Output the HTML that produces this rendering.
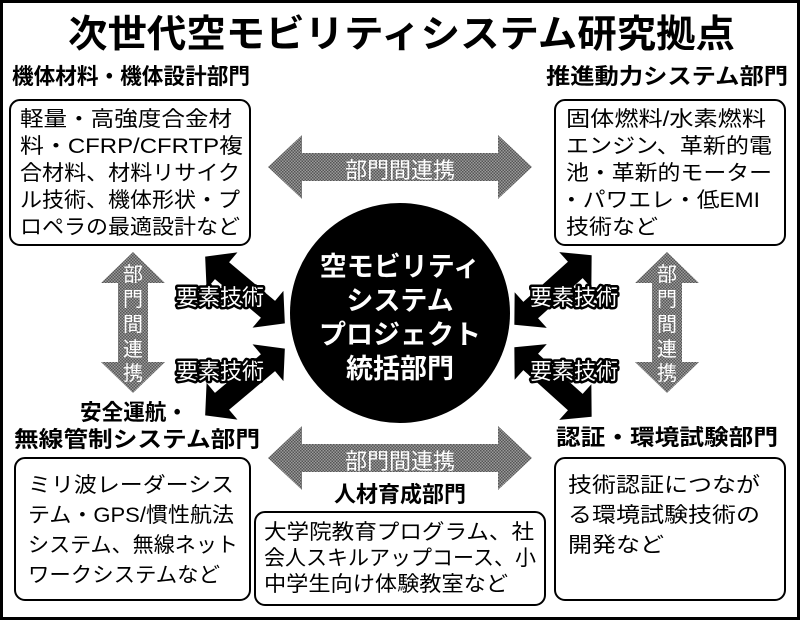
<!DOCTYPE html>
<html><head><meta charset="utf-8"><style>
html,body{margin:0;padding:0;background:#fff}
svg{display:block}
text{font-family:"Liberation Sans","Noto Sans CJK JP",sans-serif}
.b{font-weight:bold}
</style></head><body>
<svg width="800" height="620" viewBox="0 0 800 620" xmlns="http://www.w3.org/2000/svg">
<defs>
<pattern id="ck" width="3" height="3" patternUnits="userSpaceOnUse">
<rect width="3" height="3" fill="#9a9a9a"/><rect width="1.5" height="1.5" fill="#555"/><rect x="1.5" y="1.5" width="1.5" height="1.5" fill="#555"/>
</pattern>
<polygon id="da" points="-52,0 -30,-24 -30,-11 30,-11 30,-24 52,0 30,24 30,11 -30,11 -30,24" fill="#000"/>
</defs>
<rect x="1.5" y="1.5" width="797" height="617" fill="#fff" stroke="#000" stroke-width="3"/>
<text x="68" y="47" class="b" font-size="38" textLength="667" lengthAdjust="spacingAndGlyphs">次世代空モビリティシステム研究拠点</text>

<!-- top-left -->
<text x="12" y="84" class="b" font-size="22" textLength="238" lengthAdjust="spacingAndGlyphs">機体材料・機体設計部門</text>
<rect x="10" y="100" width="240" height="145" rx="10" fill="#fff" stroke="#000" stroke-width="2"/>
<g font-size="21" lengthAdjust="spacingAndGlyphs">
<text x="20" y="126" textLength="212" lengthAdjust="spacingAndGlyphs">軽量・高強度合金材</text>
<text x="20" y="153" textLength="223" lengthAdjust="spacingAndGlyphs">料・CFRP/CFRTP複</text>
<text x="20" y="180" textLength="220" lengthAdjust="spacingAndGlyphs">合材料、材料リサイク</text>
<text x="20" y="207" textLength="220" lengthAdjust="spacingAndGlyphs">ル技術、機体形状・プ</text>
<text x="20" y="234" textLength="220" lengthAdjust="spacingAndGlyphs">ロペラの最適設計など</text>
</g>

<!-- top-right -->
<text x="546" y="84" class="b" font-size="22" textLength="242" lengthAdjust="spacingAndGlyphs">推進動力システム部門</text>
<rect x="555" y="100" width="230" height="145" rx="10" fill="#fff" stroke="#000" stroke-width="2"/>
<g font-size="21">
<text x="566" y="126" textLength="200" lengthAdjust="spacingAndGlyphs">固体燃料/水素燃料</text>
<text x="566" y="153" textLength="206" lengthAdjust="spacingAndGlyphs">エンジン、革新的電</text>
<text x="566" y="180" textLength="206" lengthAdjust="spacingAndGlyphs">池・革新的モーター</text>
<text x="560" y="207" textLength="200" lengthAdjust="spacingAndGlyphs">・パワエレ・低EMI</text>
<text x="566" y="234" textLength="92" lengthAdjust="spacingAndGlyphs">技術など</text>
</g>

<!-- gray horizontal arrows -->
<polygon points="268,167 302,135 302,153 498,153 498,135 532,167 498,199 498,181 302,181 302,199" fill="url(#ck)"/>
<text x="400" y="178" text-anchor="middle" font-size="22" fill="#fff">部門間連携</text>
<polygon points="268,458 302,426 302,444 498,444 498,426 532,458 498,490 498,472 302,472 302,490" fill="url(#ck)"/>
<text x="400" y="469" text-anchor="middle" font-size="22" fill="#fff">部門間連携</text>

<!-- gray vertical arrows -->
<polygon points="133,252 165,283 148,283 148,362 165,362 133,393 101,362 118,362 118,283 101,283" fill="url(#ck)"/>
<g font-size="20" fill="#fff" text-anchor="middle">
<text x="133" y="281">部</text><text x="133" y="306">門</text><text x="133" y="331">間</text><text x="133" y="356">連</text><text x="133" y="380">携</text>
</g>
<polygon points="667,252 699,283 682,283 682,362 699,362 667,393 635,362 652,362 652,283 635,283" fill="url(#ck)"/>
<g font-size="20" fill="#fff" text-anchor="middle">
<text x="667" y="281">部</text><text x="667" y="306">門</text><text x="667" y="331">間</text><text x="667" y="356">連</text><text x="667" y="380">携</text>
</g>

<!-- black arrows -->
<use href="#da" transform="translate(245,290) rotate(40)"/>
<use href="#da" transform="translate(245,382) rotate(-40)"/>
<use href="#da" transform="translate(553,290) rotate(-42)"/>
<use href="#da" transform="translate(553,382) rotate(42)"/>

<!-- circle -->
<circle cx="400" cy="313" r="110" fill="#000"/>
<g fill="#fff" class="b" font-size="27" text-anchor="middle">
<text x="400" y="276">空モビリティ</text>
<text x="400" y="310">システム</text>
<text x="400" y="344">プロジェクト</text>
<text x="400" y="378">統括部門</text>
</g>

<!-- labels -->
<g font-size="22" fill="#fff" stroke="#000" stroke-width="5" paint-order="stroke" stroke-linejoin="round">
<text x="176" y="305">要素技術</text>
<text x="176" y="379">要素技術</text>
<text x="530" y="305">要素技術</text>
<text x="530" y="379">要素技術</text>
</g>

<!-- bottom-left -->
<text x="80" y="420" class="b" font-size="22" textLength="108" lengthAdjust="spacingAndGlyphs">安全運航・</text>
<text x="14" y="447" class="b" font-size="22" textLength="246" lengthAdjust="spacingAndGlyphs">無線管制システム部門</text>
<rect x="15" y="458" width="235" height="142" rx="10" fill="#fff" stroke="#000" stroke-width="2"/>
<g font-size="21">
<text x="28" y="492" textLength="206" lengthAdjust="spacingAndGlyphs">ミリ波レーダーシス</text>
<text x="28" y="522" textLength="206" lengthAdjust="spacingAndGlyphs">テム・GPS/慣性航法</text>
<text x="28" y="552" textLength="210" lengthAdjust="spacingAndGlyphs">システム、無線ネット</text>
<text x="28" y="582" textLength="192" lengthAdjust="spacingAndGlyphs">ワークシステムなど</text>
</g>

<!-- bottom-middle -->
<text x="400" y="502" text-anchor="middle" class="b" font-size="22">人材育成部門</text>
<rect x="255" y="512" width="290" height="93" rx="10" fill="#fff" stroke="#000" stroke-width="2"/>
<g font-size="21">
<text x="264" y="539" textLength="270" lengthAdjust="spacingAndGlyphs">大学院教育プログラム、社</text>
<text x="264" y="565" textLength="272" lengthAdjust="spacingAndGlyphs">会人スキルアップコース、小</text>
<text x="264" y="591" textLength="244" lengthAdjust="spacingAndGlyphs">中学生向け体験教室など</text>
</g>

<!-- bottom-right -->
<text x="556" y="445" class="b" font-size="22" textLength="222" lengthAdjust="spacingAndGlyphs">認証・環境試験部門</text>
<rect x="555" y="458" width="230" height="142" rx="10" fill="#fff" stroke="#000" stroke-width="2"/>
<g font-size="21">
<text x="568" y="492" textLength="192" lengthAdjust="spacingAndGlyphs">技術認証につなが</text>
<text x="568" y="522" textLength="192" lengthAdjust="spacingAndGlyphs">る環境試験技術の</text>
<text x="568" y="552" textLength="96" lengthAdjust="spacingAndGlyphs">開発など</text>
</g>
</svg>
</body></html>
